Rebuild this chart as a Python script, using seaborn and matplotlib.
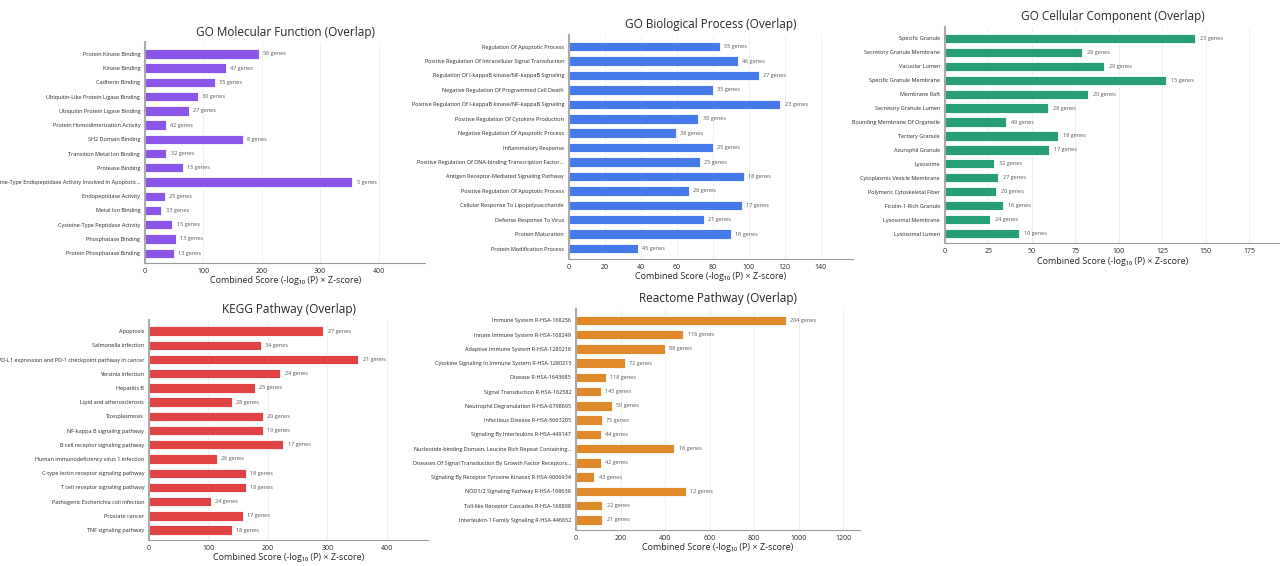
import pandas as pd
import matplotlib.pyplot as plt
import seaborn as sns

sns.set_style("white")
plt.rcParams['font.family'] = ['Open Sans', 'DejaVu Sans']

# GO Molecular Function
mf_terms = ["Protein Kinase Binding", "Kinase Binding", "Cadherin Binding",
            "Ubiquitin-Like Protein Ligase Binding", "Ubiquitin Protein Ligase Binding",
            "Protein Homodimerization Activity", "SH2 Domain Binding",
            "Transition Metal Ion Binding", "Protease Binding",
            "Cysteine-Type Endopeptidase Activity Involved In Apoptotic\u2026",
            "Endopeptidase Activity", "Metal Ion Binding", "Cysteine-Type Peptidase Activity",
            "Phosphatase Binding", "Protein Phosphatase Binding"]
mf_scores = [195, 138, 120, 90.5, 74.5, 35.5, 167, 36.7, 65, 355, 34, 28, 47, 53, 49]
mf_genes = [56, 47, 35, 30, 27, 42, 8, 32, 15, 5, 25, 33, 15, 13, 13]

# GO Biological Process
bp_terms = ["Regulation Of Apoptotic Process",
            "Positive Regulation Of Intracellular Signal Transduction",
            "Regulation Of I-kappaB kinase/NF-kappaB Signaling",
            "Negative Regulation Of Programmed Cell Death",
            "Positive Regulation Of I-kappaB kinase/NF-kappaB Signaling",
            "Positive Regulation Of Cytokine Production",
            "Negative Regulation Of Apoptotic Process", "Inflammatory Response",
            "Positive Regulation Of DNA-binding Transcription Factor\u2026",
            "Antigen Receptor-Mediated Signaling Pathway",
            "Positive Regulation Of Apoptotic Process",
            "Cellular Response To Lipopolysaccharide", "Defense Response To Virus",
            "Protein Maturation", "Protein Modification Process"]
bp_scores = [84, 94, 105.7, 80, 117.6, 72, 59.3, 80, 72.8, 97.2, 66.7, 96, 75, 90, 38.3]
bp_genes = [55, 46, 27, 35, 23, 30, 38, 25, 25, 18, 26, 17, 21, 16, 45]

# GO Cellular Component
cc_terms = ["Specific Granule", "Secretory Granule Membrane", "Vacuolar Lumen",
            "Specific Granule Membrane", "Membrane Raft", "Secretory Granule Lumen",
            "Bounding Membrane Of Organelle", "Tertiary Granule", "Azurophil Granule",
            "Lysosome", "Cytoplasmic Vesicle Membrane", "Polymeric Cytoskeletal Fiber",
            "Ficolin-1-Rich Granule", "Lysosomal Membrane", "Lysosomal Lumen"]
cc_scores = [143.7, 79, 91.3, 127, 82.2, 59, 35, 64.8, 59.8, 28.2, 30.7, 29.1, 33.6, 25.7, 42.3]
cc_genes = [23, 28, 20, 15, 20, 28, 49, 18, 17, 32, 27, 20, 16, 24, 10]

# KEGG
kegg_terms = ["Apoptosis", "Salmonella infection",
              "PD-L1 expression and PD-1 checkpoint pathway in cancer",
              "Yersinia infection", "Hepatitis B", "Lipid and atherosclerosis",
              "Toxoplasmosis", "NF-kappa B signaling pathway",
              "B cell receptor signaling pathway",
              "Human immunodeficiency virus 1 infection",
              "C-type lectin receptor signaling pathway",
              "T cell receptor signaling pathway",
              "Pathogenic Escherichia coli infection", "Prostate cancer",
              "TNF signaling pathway"]
kegg_scores = [293, 187.7, 352, 221, 177.7, 139.7, 192, 191, 226, 114, 162.6, 162.6, 104, 158, 140]
kegg_genes = [27, 34, 21, 24, 25, 28, 20, 19, 17, 26, 18, 18, 24, 17, 18]

# Reactome
re_terms = ["Immune System R-HSA-168256", "Innate Immune System R-HSA-168249",
            "Adaptive Immune System R-HSA-1280218",
            "Cytokine Signaling In Immune System R-HSA-1280215",
            "Disease R-HSA-1643685", "Signal Transduction R-HSA-162582",
            "Neutrophil Degranulation R-HSA-6798695",
            "Infectious Disease R-HSA-5663205",
            "Signaling By Interleukins R-HSA-449147",
            "Nucleotide-binding Domain, Leucine Rich Repeat Containing\u2026",
            "Diseases Of Signal Transduction By Growth Factor Receptors\u2026",
            "Signaling By Receptor Tyrosine Kinases R-HSA-9006934",
            "NOD1/2 Signaling Pathway R-HSA-168638",
            "Toll-like Receptor Cascades R-HSA-168898",
            "Interleukin-1 Family Signaling R-HSA-446652"]
re_scores = [944, 482, 400, 220, 135, 111, 162, 115, 112, 442, 112, 82, 494, 118, 118]
re_genes = [204, 116, 88, 72, 118, 145, 50, 75, 44, 16, 42, 43, 12, 22, 21]

panels = [
    ("GO Molecular Function (Overlap)", mf_terms, mf_scores, mf_genes, "#8b55ea",
     [0.1133, 0.535, 0.219, 0.39], 480, [0, 100, 200, 300, 400]),
    ("GO Biological Process (Overlap)", bp_terms, bp_scores, bp_genes, "#4679ea",
     [0.4445, 0.543, 0.222, 0.395], 158, [0, 20, 40, 60, 80, 100, 120, 140]),
    ("GO Cellular Component (Overlap)", cc_terms, cc_scores, cc_genes, "#269e78",
     [0.7383, 0.570, 0.262, 0.382], 193, [0, 25, 50, 75, 100, 125, 150, 175]),
    ("KEGG Pathway (Overlap)", kegg_terms, kegg_scores, kegg_genes, "#df4343",
     [0.1164, 0.046, 0.218, 0.389], 469, [0, 100, 200, 300, 400]),
    ("Reactome Pathway (Overlap)", re_terms, re_scores, re_genes, "#e0892b",
     [0.45, 0.064, 0.222, 0.39], 1276, [0, 200, 400, 600, 800, 1000, 1200]),
]

fig = plt.figure(figsize=(12.8, 5.66), dpi=100)
for title, terms, scores, genes, color, rect, xmax, ticks in panels:
    ax = fig.add_axes(rect)
    df = pd.DataFrame({"term": terms, "score": scores})
    sns.barplot(data=df, y="term", x="score", orient="h", color=color,
                saturation=1, width=0.66, edgecolor="white", linewidth=0.6, ax=ax)
    for i, (s, g) in enumerate(zip(scores, genes)):
        ax.text(s + xmax * 0.015, i, f"{g} genes", va="center", ha="left",
                fontsize=4.0, color="#555555")
    ax.set_xlim(0, xmax)
    ax.set_ylim(len(terms) - 0.3, -0.8)
    ax.set_xticks(ticks)
    ax.tick_params(axis="y", labelsize=4.0, length=2, width=0.5, color="#999999", pad=1.5)
    ax.tick_params(axis="x", labelsize=5, length=2, width=0.5, color="#999999", pad=1.5)
    ax.set_ylabel("")
    ax.set_xlabel("Combined Score (-log\u2081\u2080 (P) \u00d7 Z-score)", fontsize=6.5, labelpad=1)
    ax.set_title(title, fontsize=8.5, pad=5)
    ax.grid(axis="x", color="#eeeeee", linewidth=0.6)
    ax.set_axisbelow(True)
    for side in ["top", "right"]:
        ax.spines[side].set_visible(False)
    ax.spines["left"].set_color("#aaaaaa")
    ax.spines["left"].set_linewidth(1.5)
    ax.spines["bottom"].set_color("#999999")
    ax.spines["bottom"].set_linewidth(0.8)

fig.savefig("out.png", dpi=100)
